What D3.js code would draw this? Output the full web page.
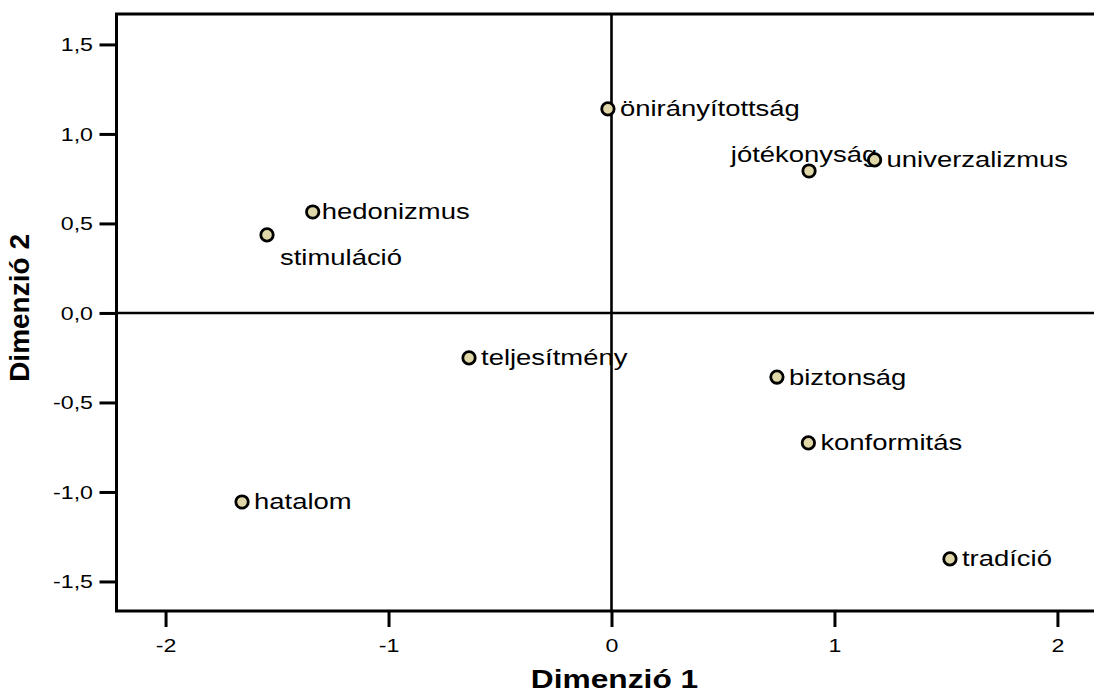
<!DOCTYPE html>
<html>
<head>
<meta charset="utf-8">
<script src="https://cdn.jsdelivr.net/npm/d3@7.9.0/dist/d3.min.js"></script>
<style>
  body { margin: 0; background: #fff; }
  svg { display: block; font-family: "Liberation Sans", Arial, sans-serif; }
</style>
</head>
<body>
<svg id="chart" width="1094" height="693"></svg>
<script>
// values
const names = ["önirányítottság", "jótékonyság", "univerzalizmus", "hedonizmus", "stimuláció",
               "teljesítmény", "biztonság", "konformitás", "hatalom", "tradíció"];
const dim1 = [-0.016, 0.886, 1.18, -1.34, -1.545, -0.639, 0.742, 0.883, -1.657, 1.518];
const dim2 = [1.14, 0.793, 0.855, 0.564, 0.436, -0.251, -0.358, -0.726, -1.056, -1.374];
const xTicks = [-2, -1, 0, 1, 2];
const yTicks = [-1.5, -1.0, -0.5, 0.0, 0.5, 1.0, 1.5];

const points = names.map((n, i) => ({ name: n, x: dim1[i], y: dim2[i] }));

// the original text is drawn a bit wide
const stretch = 1.22;

const svg = d3.select("#chart");
const plotLeft = 116.5, plotRight = 1094, plotTop = 14, plotBottom = 611;

const x = d3.scaleLinear().domain([-2.22, 2.164]).range([plotLeft, plotRight]);
const y = d3.scaleLinear().domain([-1.665, 1.67]).range([plotBottom, plotTop]);

// plain hyphen for negatives, comma as decimal mark
const comma = v => d3.format(".1f")(v).replace("−", "-").replace(".", ",");
const whole = v => d3.format("d")(v).replace("−", "-");

// zero lines
svg.append("line")
  .attr("x1", plotLeft).attr("x2", plotRight)
  .attr("y1", y(0)).attr("y2", y(0))
  .attr("stroke", "#000").attr("stroke-width", 2.6);
svg.append("line")
  .attr("x1", x(0)).attr("x2", x(0))
  .attr("y1", plotTop).attr("y2", plotBottom)
  .attr("stroke", "#000").attr("stroke-width", 2.6);

// axes
const xAxis = svg.append("g")
  .attr("transform", `translate(0,${plotBottom})`)
  .call(d3.axisBottom(x).tickValues(xTicks).tickSize(16).tickFormat(whole));
const yAxis = svg.append("g")
  .attr("transform", `translate(${plotLeft},0)`)
  .call(d3.axisLeft(y).tickValues(yTicks).tickSize(17).tickFormat(comma));

[xAxis, yAxis].forEach(a => {
  a.select(".domain").remove();
  a.selectAll(".tick line").attr("stroke", "#000").attr("stroke-width", 3);
  a.selectAll(".tick text")
    .attr("fill", "#000")
    .attr("font-size", 19)
    .attr("font-family", "Liberation Sans, Arial, sans-serif")
    .attr("transform", `scale(${stretch},1)`);
});
xAxis.selectAll(".tick text").attr("y", 27.5).attr("dy", "0.71em");
yAxis.selectAll(".tick text").attr("x", -23.5 / stretch).attr("dy", "0.34em");

// frame: left, top, bottom
svg.append("path")
  .attr("d", `M${plotRight + 2},${plotTop} H${plotLeft} V${plotBottom} H${plotRight + 2}`)
  .attr("fill", "none")
  .attr("stroke", "#000")
  .attr("stroke-width", 3);

// label placement
const placement = {
  "stimuláció": { dx: 13, dy: 30, anchor: "start" },
  "jótékonyság": { dx: -5, dy: -9, anchor: "middle" },
  "hedonizmus": { dx: 9, dy: 7.5, anchor: "start" }
};
const defaultPlace = { dx: 12, dy: 7.5, anchor: "start" };

svg.append("g")
  .selectAll("g")
  .data(points)
  .join("g")
  .attr("transform", d => {
    const p = placement[d.name] || defaultPlace;
    return `translate(${x(d.x) + p.dx},${y(d.y) + p.dy}) scale(${stretch},1)`;
  })
  .append("text")
  .attr("text-anchor", d => (placement[d.name] || defaultPlace).anchor)
  .attr("font-size", 22.5)
  .attr("fill", "#000")
  .text(d => d.name);

// points
svg.append("g")
  .selectAll("circle")
  .data(points)
  .join("circle")
  .attr("cx", d => x(d.x))
  .attr("cy", d => y(d.y))
  .attr("r", 6.2)
  .attr("fill", "#e0d7a9")
  .attr("stroke", "#000")
  .attr("stroke-width", 2.8);

// axis titles
svg.append("text")
  .attr("transform", `translate(${x(0) + 3},688) scale(${stretch},1)`)
  .attr("text-anchor", "middle")
  .attr("font-size", 26)
  .attr("font-weight", "bold")
  .text("Dimenzió 1");

svg.append("text")
  .attr("transform", `translate(29,${y(0) - 5}) rotate(-90)`)
  .attr("text-anchor", "middle")
  .attr("font-size", 28)
  .attr("font-weight", "bold")
  .text("Dimenzió 2");
</script>
</body>
</html>
